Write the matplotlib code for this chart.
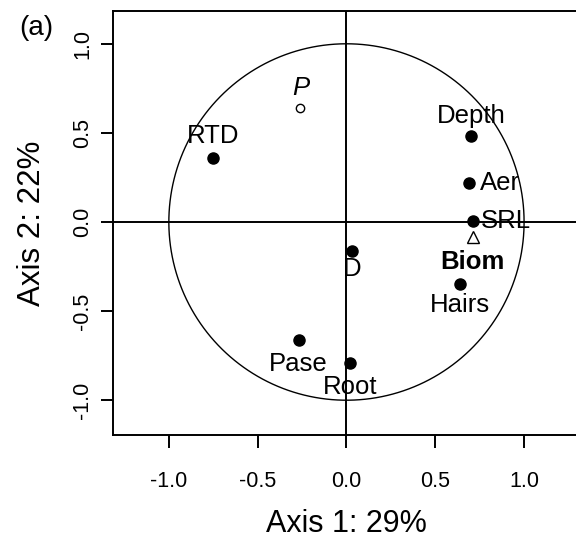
import matplotlib
matplotlib.use("Agg")
import matplotlib.pyplot as plt
import numpy as np

plt.rcParams['font.family'] = ['Liberation Sans', 'DejaVu Sans']

# active variables (filled points)
names = ["RTD", "Depth", "Aer", "SRL", "D", "Hairs", "Pase", "Root"]
ax1 = [-0.75, 0.70, 0.69, 0.71, 0.03, 0.64, -0.27, 0.02]
ax2 = [0.36, 0.48, 0.22, 0.005, -0.16, -0.35, -0.66, -0.79]

# supplementary ones
p_xy = (-0.26, 0.64)
biom_xy = (0.71, -0.085)

xticks = [-1.0, -0.5, 0.0, 0.5, 1.0]
yticks = [-1.0, -0.5, 0.0, 0.5, 1.0]

fig = plt.figure(figsize=(5.76, 5.41), dpi=100)
ax = fig.add_axes([0.196, 0.196, 0.811, 0.784])
ax.set_xlim(-1.315, 1.315)
ax.set_ylim(-1.195, 1.185)

t = np.linspace(0, 2 * np.pi, 400)
ax.plot(np.cos(t), np.sin(t), color="black", lw=1.0)
ax.axhline(0, color="black", lw=1.4)
ax.axvline(0, color="black", lw=1.4)

ax.plot(ax1, ax2, "o", color="black", ms=8)
ax.plot(*p_xy, "o", mfc="white", mec="black", ms=6, mew=1)
ax.plot(*biom_xy, "^", mfc="white", mec="black", ms=8, mew=1)

fs = 18.5
# label offsets in points
offs = {"RTD": (0, 7, "center", "bottom"),
        "Depth": (0, 6, "center", "bottom"),
        "Aer": (8, 0, "left", "center"),
        "SRL": (6, 0, "left", "center"),
        "D": (0, -5, "center", "top"),
        "Hairs": (0, -6, "center", "top"),
        "Pase": (0, -9, "center", "top"),
        "Root": (0, -9, "center", "top")}
for n, x, y in zip(names, ax1, ax2):
    dx, dy, ha, va = offs[n]
    ax.annotate(n, (x, y), xytext=(dx, dy), textcoords="offset points",
                ha=ha, va=va, fontsize=fs)
ax.annotate("P", p_xy, xytext=(0, 6), textcoords="offset points",
            ha="center", va="bottom", fontsize=fs, style="italic")
ax.annotate("Biom", biom_xy, xytext=(0, -9), textcoords="offset points",
            ha="center", va="top", fontsize=fs, fontweight="bold")

ax.set_xticks(xticks)
ax.set_yticks(yticks)
ax.set_xticklabels([f"{v:.1f}" for v in xticks])
ax.set_yticklabels([f"{v:.1f}" for v in yticks], rotation=90, va="center")
ax.tick_params(direction="out", length=9, width=1.4, labelsize=15.5)
ax.tick_params(axis="x", pad=17)
ax.tick_params(axis="y", pad=5)
for s in ax.spines.values():
    s.set_linewidth(1.4)

ax.set_xlabel("Axis 1: 29%", fontsize=22, labelpad=12)
ax.set_ylabel("Axis 2: 22%", fontsize=22.5, labelpad=18)
fig.text(0.063, 0.948, "(a)", fontsize=20, ha="center", va="center")

fig.savefig("out.png", dpi=100)
